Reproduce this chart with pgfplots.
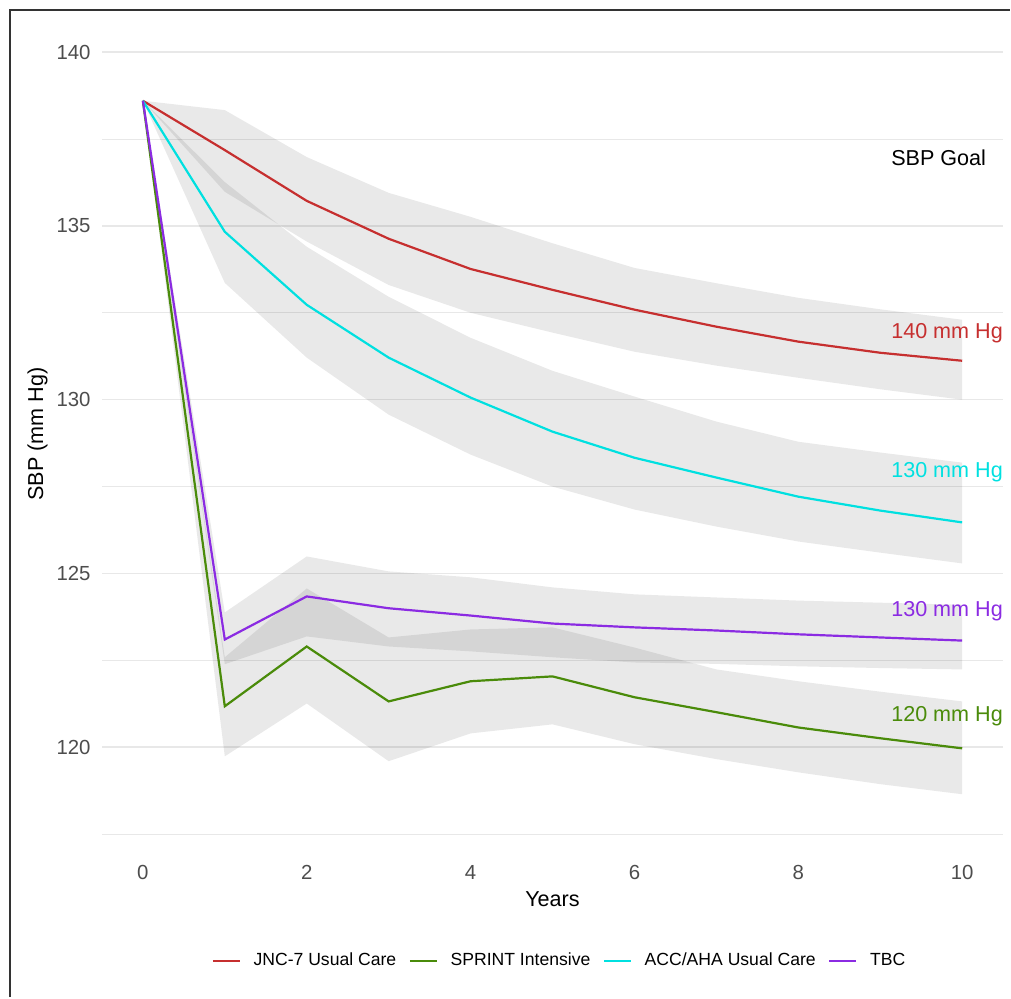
\documentclass[border=0pt]{standalone}
\usepackage{fontspec}
\setmainfont{Liberation Sans}
\usepackage{pgfplots}
\pgfplotsset{compat=1.18}
\usepackage{pgfplotstable}
\usepgfplotslibrary{fillbetween}
\definecolor{cred}{HTML}{C62F2F}
\definecolor{cgreen}{HTML}{4A8B0A}
\definecolor{ccyan}{HTML}{00E0E0}
\definecolor{cpurple}{HTML}{8B2BE2}
\definecolor{tickgray}{HTML}{4D4D4D}
\definecolor{gridgray}{HTML}{E8E8E8}

\pgfplotstableread{
x m lo hi
0 138.6 138.6 138.6
1 137.18 135.98 138.33
2 135.72 134.55 136.98
3 134.63 133.30 135.95
4 133.76 132.50 135.26
5 133.16 131.93 134.50
6 132.59 131.38 133.79
7 132.10 130.98 133.35
8 131.67 130.63 132.93
9 131.35 130.30 132.60
10 131.12 130.00 132.30
}\jnc

\pgfplotstableread{
x m lo hi
0 138.6 138.6 138.6
1 121.18 119.74 122.59
2 122.90 121.26 124.57
3 121.32 119.60 123.16
4 121.90 120.40 123.39
5 122.04 120.66 123.45
6 121.44 120.09 122.87
7 121.01 119.66 122.24
8 120.57 119.28 121.90
9 120.26 118.94 121.60
10 119.97 118.65 121.32
}\sprint

\pgfplotstableread{
x m lo hi
0 138.6 138.6 138.6
1 134.83 133.36 136.26
2 132.73 131.21 134.40
3 131.21 129.57 132.96
4 130.06 128.42 131.78
5 129.08 127.50 130.83
6 128.33 126.84 130.09
7 127.76 126.35 129.37
8 127.21 125.92 128.79
9 126.81 125.60 128.48
10 126.47 125.29 128.19
}\acc

\pgfplotstableread{
x m lo hi
0 138.6 138.6 138.6
1 123.10 122.39 123.88
2 124.34 123.19 125.49
3 124.00 122.90 125.06
4 123.79 122.76 124.89
5 123.56 122.59 124.60
6 123.45 122.44 124.40
7 123.36 122.40 124.31
8 123.25 122.33 124.22
9 123.16 122.28 124.16
10 123.07 122.24 124.10
}\tbc

\begin{document}
\begin{tikzpicture}
\path (0,0) rectangle (505.5pt,499pt);
\draw[color=black!80, line width=0.9pt] (5pt,0) -- (5pt,494pt) -- (505.5pt,494pt);
\begin{axis}[
  at={(51pt,73pt)}, anchor=south west,
  scale only axis, width=451pt, height=417.5pt,
  xmin=-0.5, xmax=10.5, ymin=117.01, ymax=141.01,
  axis line style={draw=none},
  major tick length=0pt, minor tick length=0pt,
  xtick={0,2,4,6,8,10},
  ytick={120,125,130,135,140},
  minor ytick={117.5,122.5,127.5,132.5,137.5},
  ymajorgrids, yminorgrids,
  major grid style={color=gridgray, line width=0.8pt},
  minor grid style={color=gridgray, line width=0.45pt},
  /pgf/number format/assume math mode=true,
  yticklabel style={anchor=east, inner sep=0pt, xshift=-5.5pt, text=tickgray, font=\fontsize{10.2}{12}\selectfont},
  xticklabel style={anchor=center, inner sep=0pt, yshift=-10.75pt, text=tickgray, font=\fontsize{10.2}{12}\selectfont},
  xlabel={Years},
  xlabel style={at={(axis description cs:0.5,-0.0575)}, anchor=center, inner sep=0pt, font=\fontsize{10.8}{13}\selectfont},
  ylabel={SBP (mm Hg)},
  ylabel style={at={(axis description cs:-0.0715,0.5)}, anchor=center, inner sep=0pt, font=\fontsize{10.8}{13}\selectfont},
  clip=false,
  legend columns=4,
  legend style={at={(0.5067,-0.1317)}, anchor=center, draw=none, fill=none,
    font=\fontsize{8.8}{10}\selectfont, inner sep=0pt, outer sep=0pt,
    nodes={inner sep=0pt},
    /tikz/every odd column/.append style={column sep=6.3pt},
    /tikz/every even column/.append style={column sep=6.3pt}},
  legend image code/.code={\draw[#1] (0pt,0pt) -- (13.5pt,0pt);},
]
% ribbons
\addplot[draw=none, name path=jh, forget plot] table[x=x,y=hi]{\jnc};
\addplot[draw=none, name path=jl, forget plot] table[x=x,y=lo]{\jnc};
\addplot[fill=black, fill opacity=0.085, draw=none, forget plot] fill between[of=jh and jl];
\addplot[draw=none, name path=sh, forget plot] table[x=x,y=hi]{\sprint};
\addplot[draw=none, name path=sl, forget plot] table[x=x,y=lo]{\sprint};
\addplot[fill=black, fill opacity=0.085, draw=none, forget plot] fill between[of=sh and sl];
\addplot[draw=none, name path=ah, forget plot] table[x=x,y=hi]{\acc};
\addplot[draw=none, name path=al, forget plot] table[x=x,y=lo]{\acc};
\addplot[fill=black, fill opacity=0.085, draw=none, forget plot] fill between[of=ah and al];
\addplot[draw=none, name path=th, forget plot] table[x=x,y=hi]{\tbc};
\addplot[draw=none, name path=tl, forget plot] table[x=x,y=lo]{\tbc};
\addplot[fill=black, fill opacity=0.085, draw=none, forget plot] fill between[of=th and tl];
% lines
\addplot[cred, line width=1.1pt] table[x=x,y=m]{\jnc};
\addlegendentry{JNC-7 Usual Care}
\addplot[cgreen, line width=1.1pt] table[x=x,y=m]{\sprint};
\addlegendentry{SPRINT Intensive}
\addplot[ccyan, line width=1.1pt] table[x=x,y=m]{\acc};
\addlegendentry{ACC/AHA Usual Care}
\addplot[cpurple, line width=1.1pt] table[x=x,y=m]{\tbc};
\addlegendentry{TBC}
% annotations
\node[anchor=base west, inner sep=0pt, font=\fontsize{10.8}{13}\selectfont] at (axis cs:9.13,136.75) {SBP Goal};
\node[anchor=base west, inner sep=0pt, text=cred, font=\fontsize{10.8}{13}\selectfont] at (axis cs:9.13,131.76) {140 mm Hg};
\node[anchor=base west, inner sep=0pt, text=ccyan, font=\fontsize{10.8}{13}\selectfont] at (axis cs:9.13,127.77) {130 mm Hg};
\node[anchor=base west, inner sep=0pt, text=cpurple, font=\fontsize{10.8}{13}\selectfont] at (axis cs:9.13,123.77) {130 mm Hg};
\node[anchor=base west, inner sep=0pt, text=cgreen, font=\fontsize{10.8}{13}\selectfont] at (axis cs:9.13,120.75) {120 mm Hg};
\end{axis}
\end{tikzpicture}
\end{document}
